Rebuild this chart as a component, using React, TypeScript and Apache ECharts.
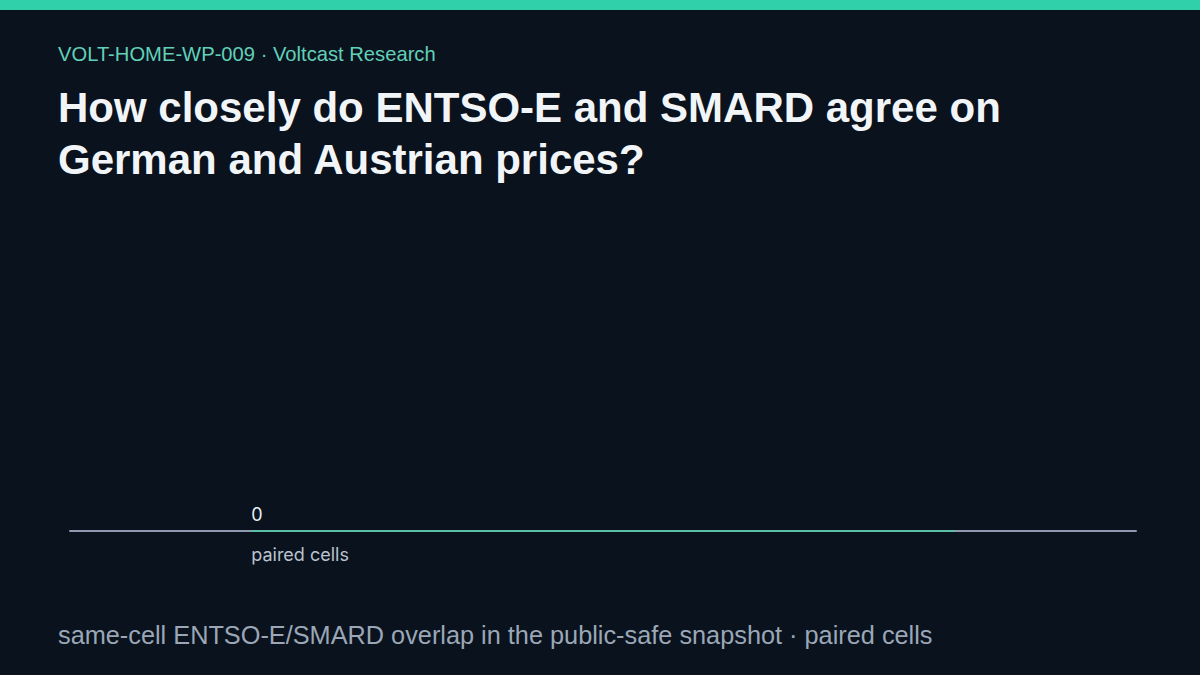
import { useEffect, useRef } from 'react'
import * as echarts from 'echarts'

const categories = ['paired cells']
const pairedCells = [0]

const eyebrow = 'VOLT-HOME-WP-009 · Voltcast Research'
const headline = 'How closely do ENTSO-E and SMARD agree on\nGerman and Austrian prices?'
const footnote = 'same-cell ENTSO-E/SMARD overlap in the public-safe snapshot · paired cells'

const BG = '#09121d'
const TEAL = '#5cbfa6'
const AXIS = '#8f9ab0'
const FONT = '"Liberation Sans", Arial, sans-serif'

export default function App() {
  const chartRef = useRef<HTMLDivElement>(null)

  useEffect(() => {
    document.body.style.margin = '0'
    document.body.style.background = BG
    if (!chartRef.current) return

    const chart = echarts.init(chartRef.current, undefined, { renderer: 'svg' })

    const option: echarts.EChartsOption = {
      animation: false,
      backgroundColor: BG,
      title: [
        {
          text: eyebrow,
          left: 58,
          top: 44,
          padding: 0,
          textStyle: {
            color: '#62d0b8',
            fontSize: 20.2,
            fontWeight: 'normal',
            fontFamily: FONT
          }
        },
        {
          text: headline,
          left: 58,
          top: 81,
          padding: 0,
          textStyle: {
            color: '#f2f5f8',
            fontSize: 42,
            lineHeight: 52,
            fontWeight: 'bold',
            fontFamily: FONT
          }
        },
        {
          text: footnote,
          left: 58,
          top: 622,
          padding: 0,
          textStyle: {
            color: '#9ba7b6',
            fontSize: 25.3,
            fontWeight: 'normal',
            fontFamily: FONT
          }
        }
      ],
      graphic: [
        {
          type: 'rect',
          left: 0,
          top: 0,
          shape: { width: 1200, height: 10 },
          style: { fill: '#2fd0aa' }
        }
      ],
      grid: {
        left: 70,
        right: 64,
        top: 220,
        bottom: 143
      },
      xAxis: {
        type: 'category',
        data: categories,
        offset: -1,
        axisLine: { show: true, lineStyle: { color: AXIS, width: 2 } },
        axisTick: { show: false },
        axisLabel: { show: false },
        splitLine: { show: false }
      },
      yAxis: {
        type: 'value',
        min: 0,
        max: 1,
        show: false
      },
      series: [
        {
          type: 'bar',
          data: pairedCells,
          barWidth: '66%',
          barMinHeight: 2,
          itemStyle: { color: TEAL },
          label: {
            show: true,
            position: [0, -25],
            formatter: '{c}',
            color: '#e8eef5',
            fontSize: 18,
            fontFamily: 'Inter, sans-serif'
          },
          z: 3
        },
        {
          type: 'bar',
          data: pairedCells,
          barWidth: '66%',
          barGap: '-100%',
          itemStyle: { color: 'transparent' },
          label: {
            show: true,
            position: [0, 13],
            formatter: () => categories[0],
            color: '#b9c3cf',
            fontSize: 18,
            fontFamily: 'Inter, sans-serif'
          },
          z: 1
        }
      ]
    }

    chart.setOption(option)

    return () => {
      chart.dispose()
    }
  }, [])

  return <div ref={chartRef} style={{ width: 1200, height: 675 }} />
}
